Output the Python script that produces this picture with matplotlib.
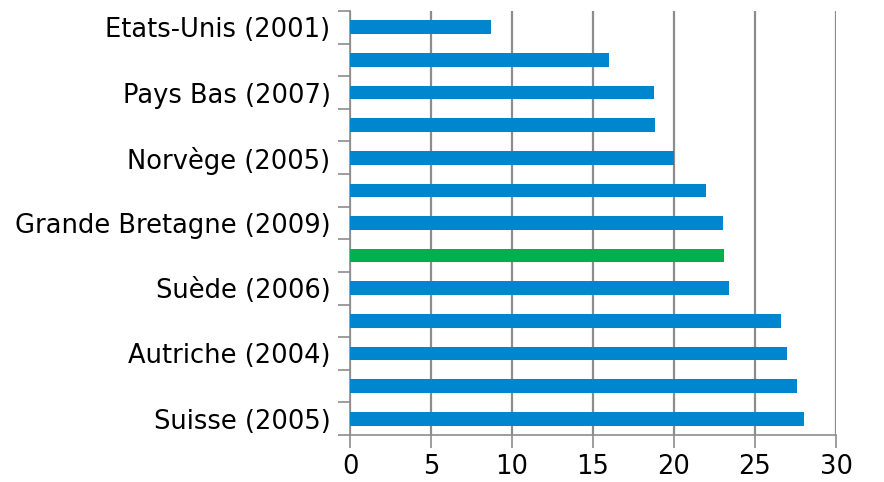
import matplotlib.pyplot as plt
import numpy as np

# données (haut -> bas)
pays = ['Etats-Unis (2001)', '', 'Pays Bas (2007)', '', 'Norvège (2005)', '',
        'Grande Bretagne (2009)', '', 'Suède (2006)', '', 'Autriche (2004)', '',
        'Suisse (2005)']
valeurs = [8.7, 16.0, 18.75, 18.8, 20.0, 22.0, 23.0, 23.1, 23.4, 26.6, 27.0, 27.6, 28.0]
couleurs = ['#0085CF'] * 13
couleurs[7] = '#00B050'
x_ticks = [0, 5, 10, 15, 20, 25, 30]

fig = plt.figure(figsize=(8.84, 4.82), dpi=100)
ax = fig.add_axes([350 / 884, 1 - 435 / 482, 486 / 884, 424 / 482])

y = np.arange(len(valeurs))
ax.barh(y, valeurs, height=0.42, color=couleurs, zorder=3)

ax.set_xlim(0, 30)
ax.set_ylim(len(valeurs) - 0.5, -0.5)

# lignes de grille verticales
ax.set_xticks(x_ticks)
ax.set_xticklabels([str(v) for v in x_ticks])
ax.grid(axis='x', color='#8c8c8c', linewidth=1.6, zorder=0)
ax.tick_params(axis='x', direction='out', length=9, width=1.2, color='#8c8c8c',
               labelsize=18.5, pad=5)

# libellés au centre, petits traits entre les catégories
ax.set_yticks(y)
ax.set_yticklabels(pays)
ax.tick_params(axis='y', length=0, labelsize=18.5, pad=14)
ax.set_yticks(np.arange(-0.5, len(valeurs)), minor=True)
ax.tick_params(axis='y', which='minor', direction='out', length=9, width=1.2,
               color='#8c8c8c')

for s in ['top', 'right']:
    ax.spines[s].set_visible(False)
for s in ['left', 'bottom']:
    ax.spines[s].set_color('#8c8c8c')
    ax.spines[s].set_linewidth(1.2)

plt.savefig('out.png', dpi=100)
